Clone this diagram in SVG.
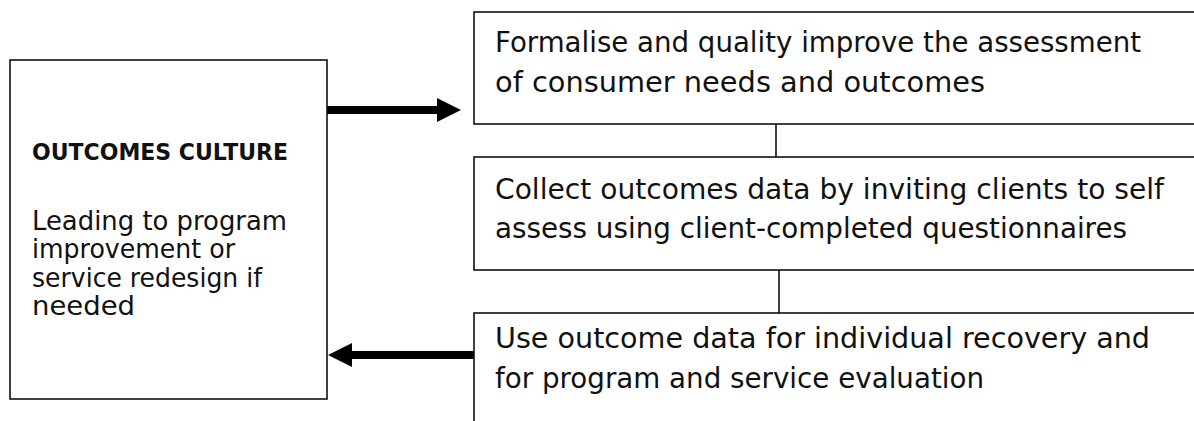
<svg xmlns="http://www.w3.org/2000/svg" width="1194" height="421" viewBox="0 0 1194 421">
<style>
.box{fill:#fff;stroke:#111;stroke-width:1.6}
.t{font-family:"DejaVu Sans","Liberation Sans",sans-serif;font-size:28px;fill:#111}
.b{font-family:"DejaVu Sans","Liberation Sans",sans-serif;font-size:27px;fill:#111}
.h{font-family:"DejaVu Sans","Liberation Sans",sans-serif;font-size:23px;font-weight:bold;fill:#111}
.thin{stroke:#111;stroke-width:1.6;fill:none}
.thick{stroke:#000;stroke-width:8;fill:none}
</style>
<defs>
<marker id="ah" markerUnits="userSpaceOnUse" viewBox="0 0 24 24" refX="0" refY="12" markerWidth="24" markerHeight="24" orient="auto">
<path d="M0,0 L24,12 L0,24 z" fill="#000"/>
</marker>
</defs>
<rect width="1194" height="421" fill="#fff"/>
<g id="connectors">
<line class="thin" x1="776" y1="124" x2="776" y2="157"/>
<line class="thin" x1="779" y1="270" x2="779" y2="313"/>
<line class="thick" x1="327" y1="110" x2="437" y2="110" marker-end="url(#ah)"/>
<line class="thick" x1="474" y1="355" x2="352" y2="355" marker-end="url(#ah)"/>
</g>
<g id="outcomes-culture">
<rect class="box" x="10" y="60" width="317" height="339"/>
<text class="h" x="32" y="160" textLength="256" lengthAdjust="spacingAndGlyphs">OUTCOMES CULTURE</text>
<text class="b" x="32" y="230" textLength="255" lengthAdjust="spacingAndGlyphs">Leading to program</text>
<text class="b" x="32" y="258" textLength="203" lengthAdjust="spacingAndGlyphs">improvement or</text>
<text class="b" x="32" y="287" textLength="230" lengthAdjust="spacingAndGlyphs">service redesign if</text>
<text class="b" x="32" y="315" textLength="103" lengthAdjust="spacingAndGlyphs">needed</text>
</g>
<g id="assess">
<rect class="box" x="474" y="12" width="740" height="112"/>
<text class="t" x="495" y="52" textLength="646" lengthAdjust="spacingAndGlyphs">Formalise and quality improve the assessment</text>
<text class="t" x="495" y="92" textLength="490" lengthAdjust="spacingAndGlyphs">of consumer needs and outcomes</text>
</g>
<g id="collect">
<rect class="box" x="474" y="157" width="740" height="113"/>
<text class="t" x="495" y="199" textLength="669" lengthAdjust="spacingAndGlyphs">Collect outcomes data by inviting clients to self</text>
<text class="t" x="495" y="238" textLength="632" lengthAdjust="spacingAndGlyphs">assess using client-completed questionnaires</text>
</g>
<g id="use">
<rect class="box" x="474" y="313" width="740" height="130"/>
<text class="t" x="495" y="348" textLength="655" lengthAdjust="spacingAndGlyphs">Use outcome data for individual recovery and</text>
<text class="t" x="495" y="388" textLength="489" lengthAdjust="spacingAndGlyphs">for program and service evaluation</text>
</g>
</svg>
